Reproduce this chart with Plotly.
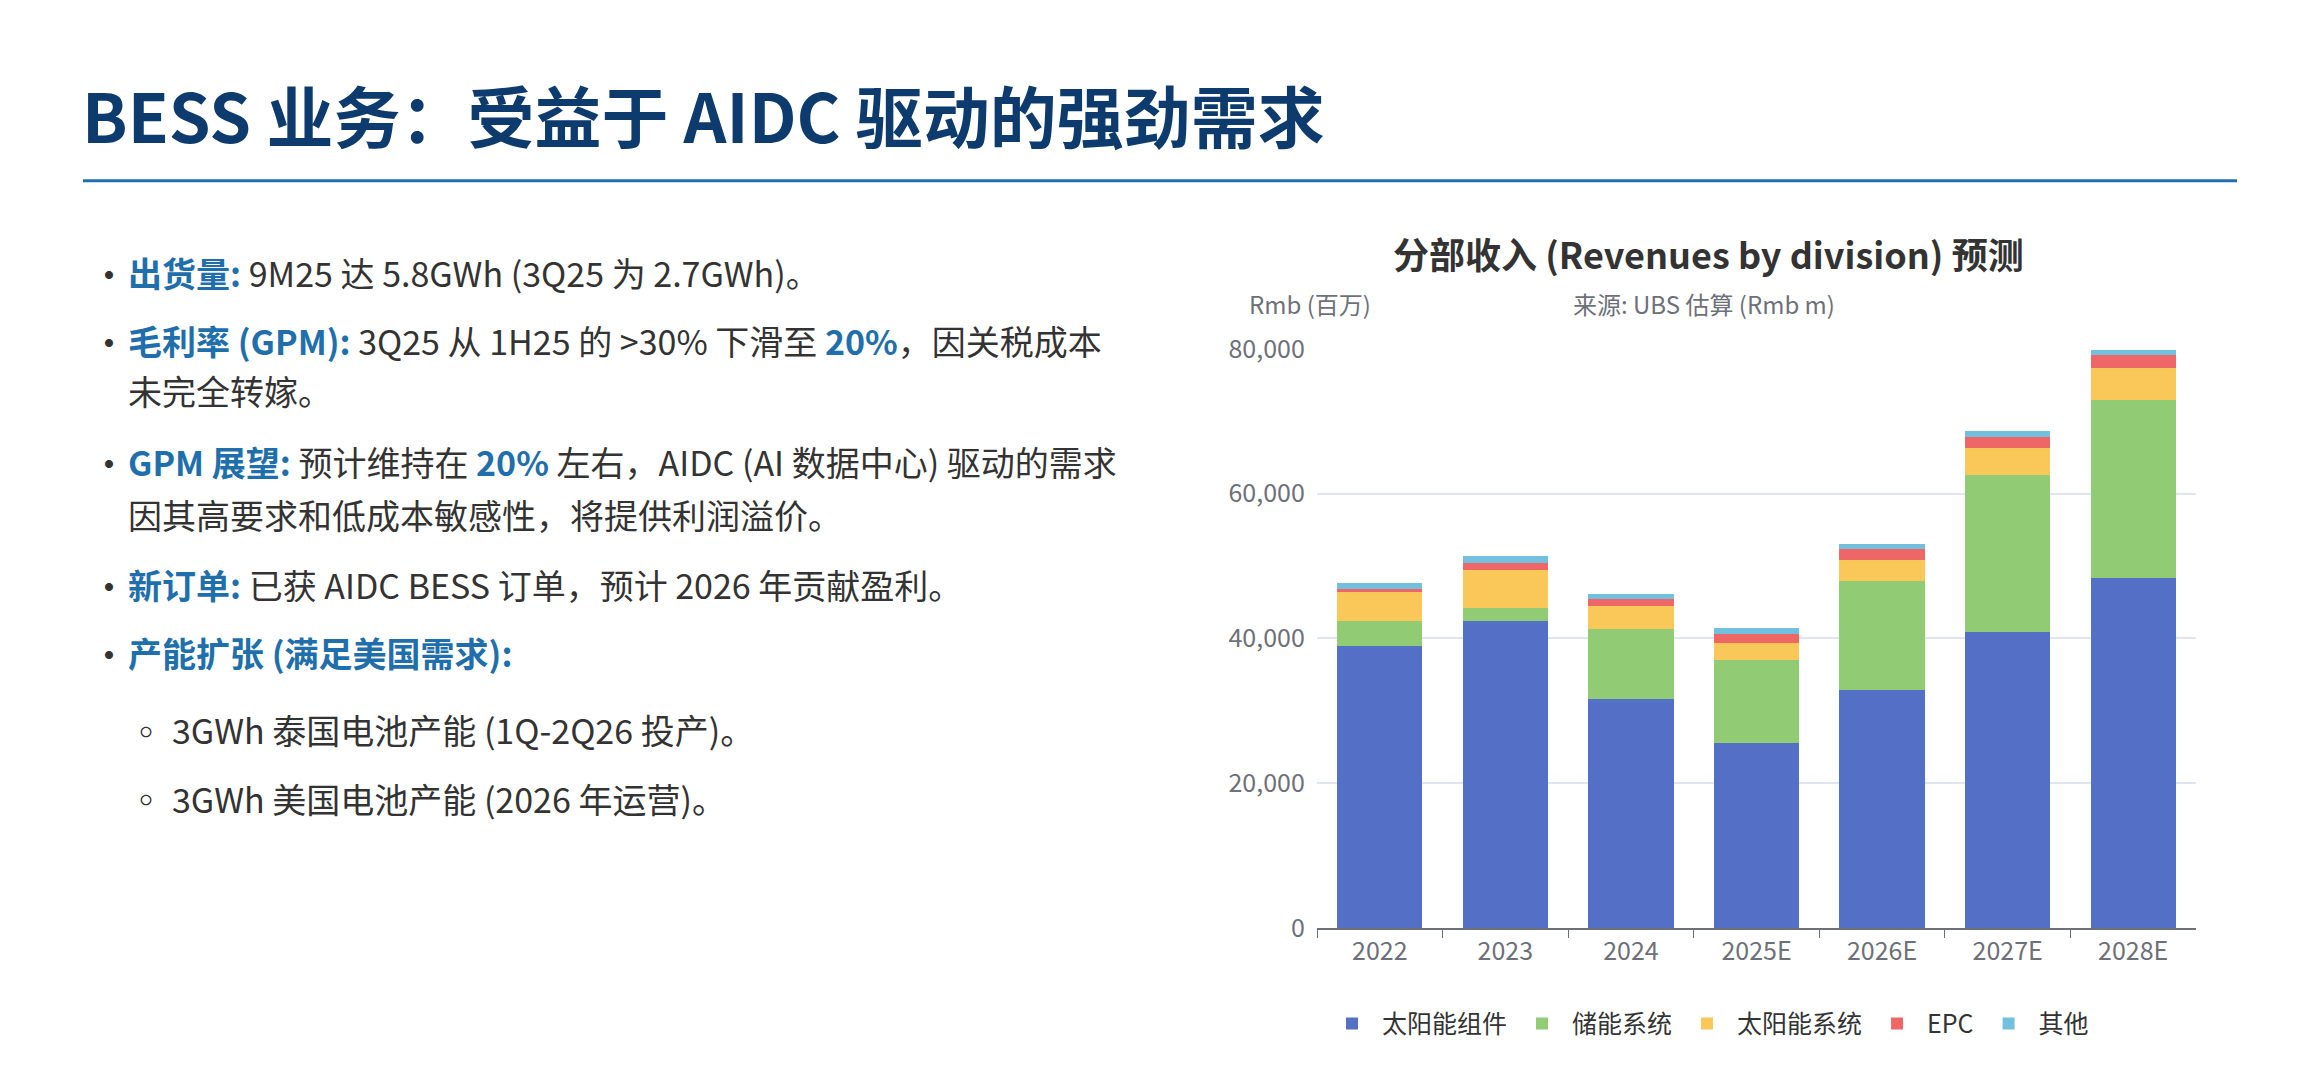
import plotly.graph_objects as go

years = ["2022", "2023", "2024", "2025E", "2026E", "2027E", "2028E"]
solar_modules = [39000, 42400, 31600, 25600, 32900, 40900, 48300]
storage = [3400, 1800, 9700, 11400, 15000, 21700, 24700]
solar_systems = [4000, 5300, 3200, 2400, 3000, 3700, 4300]
epc = [400, 900, 900, 1200, 1400, 1600, 1800]
other = [800, 1000, 800, 800, 800, 800, 800]

series = [
    ("太阳能组件", solar_modules, "#5470c6"),
    ("储能系统", storage, "#91cc75"),
    ("太阳能系统", solar_systems, "#fac858"),
    ("EPC", epc, "#ee6666"),
    ("其他", other, "#73c0de"),
]

W, H = 2321, 1080
FONT = "Noto Sans CJK SC"

fig = go.Figure()
for name, vals, col in series:
    fig.add_trace(go.Bar(x=years, y=vals, name=name, marker_color=col,
                         marker_line_width=0, width=0.68))

fig.update_layout(
    width=W, height=H, barmode="stack",
    paper_bgcolor="white", plot_bgcolor="white",
    margin=dict(l=0, r=0, t=0, b=0),
    font=dict(family=FONT, color="#333"),
    xaxis=dict(domain=[1309 / W, 2188 / W], showline=True, linecolor="#6e7079",
               linewidth=2, ticks="outside", tickcolor="#6e7079", ticklen=8,
               tickson="boundaries", tickfont=dict(size=25, color="#6e7079")),
    yaxis=dict(domain=[(H - 931) / H, (H - 332) / H], range=[0, 80000],
               dtick=20000, tickformat=",", gridcolor="#e0e6f1", gridwidth=1.5,
               zeroline=False, ticksuffix="  ",
               tickfont=dict(size=25, color="#6e7079")),
    legend=dict(orientation="h", x=1700 / W, xanchor="center", y=(H - 1030) / H,
                yanchor="middle", font=dict(size=25, color="#333"),
                traceorder="normal", itemwidth=50),
)

ann = []
def txt(x, y, s, size=34, color="#333", anchor="left"):
    ann.append(dict(x=x / W, y=1 - y / H, xref="paper", yref="paper", text=s,
                    showarrow=False, xanchor=anchor, yanchor="middle",
                    font=dict(size=size, color=color, family=FONT)))

txt(72, 88, "<b>BESS 业务：受益于 AIDC 驱动的强劲需求</b>", size=67, color="#0d3b6e")

B = "#1f6fad"
lines = [
    (253, "•", f"<b><span style='color:{B}'>出货量:</span></b> 9M25 达 5.8GWh (3Q25 为 2.7GWh)。"),
    (323, "•", f"<b><span style='color:{B}'>毛利率 (GPM):</span></b> 3Q25 从 1H25 的 >30% 下滑至 <b><span style='color:{B}'>20%</span></b>，因关税成本"),
    (375, "", "未完全转嫁。"),
    (448, "•", f"<b><span style='color:{B}'>GPM 展望:</span></b> 预计维持在 <b><span style='color:{B}'>20%</span></b> 左右，AIDC (AI 数据中心) 驱动的需求"),
    (503, "", "因其高要求和低成本敏感性，将提供利润溢价。"),
    (576, "•", f"<b><span style='color:{B}'>新订单:</span></b> 已获 AIDC BESS 订单，预计 2026 年贡献盈利。"),
    (646, "•", f"<b><span style='color:{B}'>产能扩张 (满足美国需求):</span></b>"),
]
for y, b, s in lines:
    if b:
        txt(80, y, b, size=38)
    txt(118, y, s)
txt(118, 726, "◦", size=36)
txt(162, 726, "3GWh 泰国电池产能 (1Q-2Q26 投产)。")
txt(118, 797, "◦", size=36)
txt(162, 797, "3GWh 美国电池产能 (2026 年运营)。")

txt(1700, 233, "<b>分部收入 (Revenues by division) 预测</b>", size=36, color="#333", anchor="center")
txt(1239, 285, "Rmb (百万)", size=24, color="#6e7079")
txt(1563, 285, "来源: UBS 估算 (Rmb m)", size=24, color="#6e7079")

fig.update_layout(annotations=ann, shapes=[
    dict(type="line", xref="paper", yref="paper", x0=75 / W, x1=2229 / W,
         y0=1 - 158 / H, y1=1 - 158 / H, line=dict(color="#1f6fad", width=3))
])

fig.write_html("out.html")
